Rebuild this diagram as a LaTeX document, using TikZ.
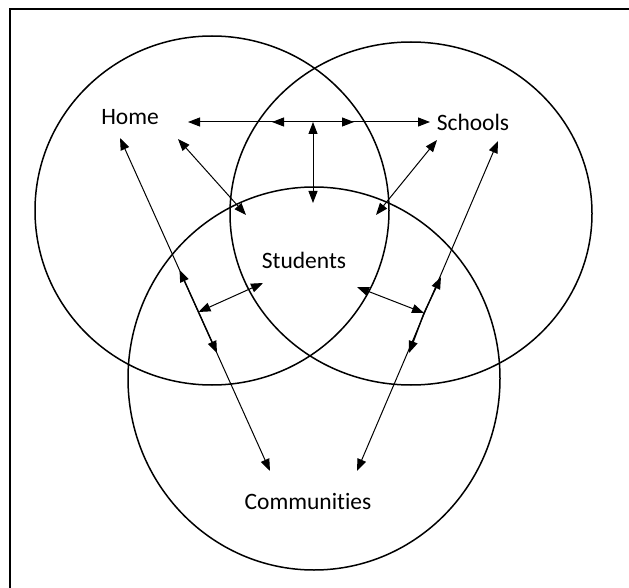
\documentclass[tikz,border=0pt]{standalone}
\usepackage{fontspec}
\setmainfont{Carlito}[Ligatures=NoCommon]
\usetikzlibrary{arrows.meta}

\begin{document}
\begin{tikzpicture}[
    x=1pt, y=-1pt,
    ring/.style={line width=1.5pt},
    frame/.style={line width=2pt},
    link/.style={{Triangle[length=12pt,width=9pt]}-{Triangle[length=12pt,width=9pt]}, line width=1pt},
    tip/.style={-{Triangle[length=12pt,width=9pt]}, line width=1pt},
    label/.style={font=\fontsize{23.5}{28}\selectfont, inner sep=0pt}
]
\useasboundingbox (0,0) rectangle (629,588);

% frame
\draw[frame] (10,588) -- (10,9.5) -- (629,9.5);

% the three rings
\draw[ring] (212,210.5) ellipse [x radius=177pt, y radius=174.5pt];
\draw[ring] (411,213.5) ellipse [x radius=181pt, y radius=171.5pt];
\draw[ring] (314,378.5) ellipse [x radius=186pt, y radius=191.5pt];

\node[label] (home) at (130,117) {Home};
\node[label] (schools) at (473,122) {Schools};
\node[label] (students) at (304,260) {Students};
\node[label] (comm) at (308,501) {Communities};

% arrow ends
\coordinate (hs1) at (188,122);
\coordinate (hs2) at (430,122);
\coordinate (top) at (313,122);
\coordinate (topL) at (272,122);
\coordinate (topR) at (354,122);
\coordinate (stuT) at (313,203);
\coordinate (hd1) at (178,139);
\coordinate (hd2) at (246,215);
\coordinate (sd1) at (437,140);
\coordinate (sd2) at (376,215);
\coordinate (hc1) at (120,138);
\coordinate (hc2) at (270,471);
\coordinate (pL) at (198.5,312);
\coordinate (pLu) at (179.5,270);
\coordinate (pLd) at (217,353);
\coordinate (stuL) at (263,283);
\coordinate (sc1) at (498,141);
\coordinate (sc2) at (357,471);
\coordinate (pR) at (424,313);
\coordinate (pRu) at (441,277);
\coordinate (pRd) at (409,353);
\coordinate (stuR) at (357,287);

% home -- schools
\draw[link] (hs1) -- (hs2);
\draw[tip] (top) -- (topL);
\draw[tip] (top) -- (topR);
\draw[link] (top) -- (stuT);

\draw[link] (hd1) -- (hd2);
\draw[link] (sd1) -- (sd2);

% long lines down to communities
\draw[link] (hc1) -- (hc2);
\draw[tip, line width=1.4pt] (pL) -- (pLu);
\draw[tip, line width=1.4pt] (pL) -- (pLd);
\draw[link] (pL) -- (stuL);

\draw[link] (sc1) -- (sc2);
\draw[tip, line width=1.4pt] (pR) -- (pRu);
\draw[tip, line width=1.4pt] (pR) -- (pRd);
\draw[link] (pR) -- (stuR);

\end{tikzpicture}
\end{document}
